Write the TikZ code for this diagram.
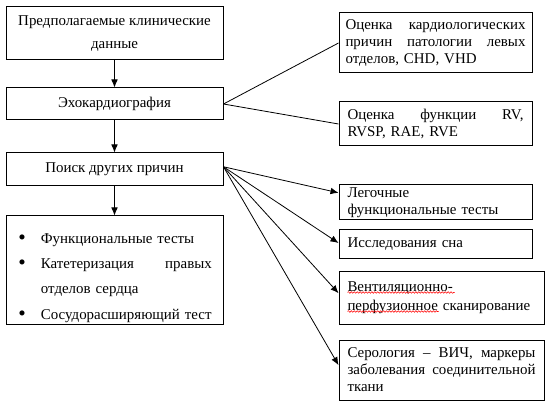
\documentclass[tikz,border=0pt]{standalone}
\usepackage{fontspec}
\setmainfont{Liberation Serif}
\usepackage{tikz}
\usetikzlibrary{calc, positioning, arrows.meta, decorations.pathmorphing}

% a bulleted item
\newcommand{\listitem}[1]{\par\noindent\hangindent=17.8pt\hangafter=1%
  \makebox[17.8pt][l]{\hspace{1pt}\raisebox{-1pt}{\fontsize{16}{16}\selectfont\textbullet}}#1}

\tikzset{
  box/.style={draw, line width=0.75pt, rectangle, inner sep=0pt,
    font=\fontsize{11.2}{12.75}\selectfont},
  leftbox/.style={box, minimum width=162.75pt},
  rightbox/.style={box, minimum width=144.75pt},
  widebox/.style={box, minimum width=153.75pt},
  link/.style={line width=0.6pt},
  arrow/.style={link, -{Latex[length=6pt, width=5pt]}},
  spellwave/.style={red, line width=0.4pt, decorate,
    decoration={snake, amplitude=0.6pt, segment length=2.2pt}}
}

\begin{document}
\begin{tikzpicture}[x=0.75pt, y=-0.75pt]
  \useasboundingbox (0,0) rectangle (550,406);

  % Main column
  \node[leftbox, minimum height=39.75pt, align=center,
    font=\fontsize{11.2}{17.25}\selectfont] (data) at (114.5,33.5)
    {Предполагаемые клинические\\данные};
  \node[leftbox, minimum height=24pt] (echo) at (114.5,104) {Эхокардиография};
  \node[leftbox, minimum height=24.75pt] (search) at (114.5,169.5) {Поиск других причин};
  \node[leftbox, minimum height=81pt, text width=146pt, align=left,
    font=\fontsize{11.2}{19}\selectfont] (tests) at (114.5,270)
    {\listitem{Функциональные тесты}
     \listitem{Катетеризация\hfill правых\break отделов сердца}
     \listitem{Сосудорасширяющий тест}};

  % Echo findings
  \node[rightbox, minimum height=45pt, text width=135pt, align=left] (cardio) at (435.5,43)
    {Оценка\hfill кардиологических\break
     причин\hfill патологии\hfill левых\break
     отделов, CHD, VHD};
  \node[rightbox, minimum height=33pt, text width=132pt, align=left] (rvfun) at (435.5,124)
    {Оценка\hfill функции\hfill RV,\break RVSP, RAE, RVE};

  % Other causes
  \node[rightbox, minimum height=26.25pt, text width=132pt, align=left] (lung) at (435.5,202.5)
    {Легочные\\функциональные тесты};
  \node[rightbox, minimum height=21.75pt, text width=132pt, align=left] (sleep) at (435.5,244.5)
    {Исследования сна};
  \node[widebox, minimum height=39.75pt, text width=141pt, align=left,
    font=\fontsize{11.2}{14}\selectfont] (vq) at (441.5,297.5)
    {Вентиляционно-\\перфузионное сканирование};
  \node[widebox, minimum height=45pt, text width=141pt, align=left] (sero) at (441.5,370)
    {Серология\hfill –\hfill ВИЧ,\hfill маркеры\break
     заболевания\hfill соединительной\break
     ткани};

  % spell-check marks
  \draw[spellwave] ($(vq.north west)+(9,22)$) -- ++(107,0);
  \draw[spellwave] ($(vq.north west)+(9,41)$) -- ++(91,0);

  % Connectors
  \draw[arrow] (data) -- (echo);
  \draw[arrow] (echo) -- (search);
  \draw[arrow] (search) -- (tests);
  \draw[link] (echo.east) -- (cardio.west);
  \draw[link] (echo.east) -- (rvfun.west);
  \coordinate (fan) at ($(search.north east)!0.42!(search.south east)$);
  \foreach \target/\pos in {lung/0.23, sleep/0.45, vq/0.42, sero/0.42}
    \draw[arrow] (fan) -- ($(\target.north west)!\pos!(\target.south west)$);
\end{tikzpicture}
\end{document}
